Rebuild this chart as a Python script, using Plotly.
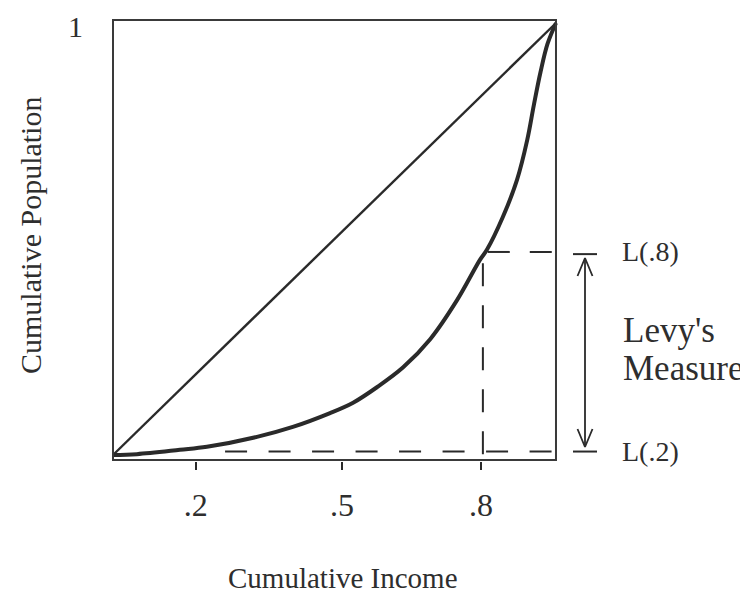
import plotly.graph_objects as go

# ---- data ----
lorenz_income = [0, 0.054, 0.151, 0.212, 0.325, 0.406, 0.490, 0.542, 0.596, 0.655, 0.716,
                 0.777, 0.828, 0.844, 0.880, 0.912, 0.935, 0.950, 0.965, 0.981, 1.0]
lorenz_pop = [0, 0.002, 0.012, 0.019, 0.042, 0.065, 0.097, 0.121, 0.157, 0.203, 0.268,
              0.359, 0.451, 0.475, 0.551, 0.637, 0.729, 0.810, 0.886, 0.952, 1.0]
equality_income = [0, 1]
equality_pop = [0, 1]

tick_positions = [0.187, 0.517, 0.831]
tick_labels = [".2", ".5", ".8"]
y_top_label = "1"

L08 = 0.470          # level of L(.8)
L02 = 0.008          # level of L(.2)
x08 = 0.835          # vertical guide at .8
x_low_start = 0.253  # where L(.2) dashed guide starts
x_high_start = 0.846 # where L(.8) dashed guide starts
box_x = [0, 1]
box_y = [-0.0116, 1.007]
arrow_x = 1.0655
cap_x = [1.0384, 1.0926]

INK = "#2a2a2a"
TXT = "#2e2e2e"
FONT = "Liberation Serif"

fig = go.Figure()

# box
fig.add_shape(type="rect", x0=box_x[0], x1=box_x[1], y0=box_y[0], y1=box_y[1],
              xref="x", yref="y", line=dict(color="#3a3a3a", width=2))

# equality diagonal
fig.add_trace(go.Scatter(x=equality_income, y=equality_pop, mode="lines",
                         line=dict(color=INK, width=2.4), hoverinfo="skip"))
# Lorenz curve
fig.add_trace(go.Scatter(x=lorenz_income, y=lorenz_pop, mode="lines",
                         line=dict(color=INK, width=4, shape="spline", smoothing=1.0),
                         hoverinfo="skip"))

# dashed guides
fig.add_trace(go.Scatter(x=[x_low_start, box_x[1]], y=[L02, L02], mode="lines",
                         line=dict(color=INK, width=2, dash="22px,21.5px"), hoverinfo="skip"))
fig.add_trace(go.Scatter(x=[x_high_start, box_x[1]], y=[L08, L08], mode="lines",
                         line=dict(color=INK, width=2, dash="22px,20px"), hoverinfo="skip"))
fig.add_trace(go.Scatter(x=[x08, x08], y=[L08 - 0.026, -0.02], mode="lines",
                         line=dict(color=INK, width=2, dash="23px,19px"), hoverinfo="skip"))

# caps of the measure arrow
for lvl in (L08 - 0.005, L02):
    fig.add_trace(go.Scatter(x=cap_x, y=[lvl, lvl], mode="lines",
                             line=dict(color=INK, width=2), hoverinfo="skip"))

# arrow shaft and open heads
top = L08 - 0.014
bot = L02 + 0.0105
dx, dy = 0.0169, 0.0417
fig.add_trace(go.Scatter(x=[arrow_x, arrow_x], y=[top, bot], mode="lines",
                         line=dict(color=INK, width=1.8), hoverinfo="skip"))
fig.add_trace(go.Scatter(x=[arrow_x - dx, arrow_x, arrow_x + dx], y=[top - dy, top, top - dy],
                         mode="lines", line=dict(color=INK, width=1.8), hoverinfo="skip"))
fig.add_trace(go.Scatter(x=[arrow_x - dx, arrow_x, arrow_x + dx], y=[bot + dy, bot, bot + dy],
                         mode="lines", line=dict(color=INK, width=1.8), hoverinfo="skip"))

ann = []
ann.append(dict(text=y_top_label, xref="paper", yref="paper", x=-0.0549, y=1.0157,
                xanchor="center", yanchor="top", showarrow=False,
                font=dict(family=FONT, size=30, color=TXT)))
ann.append(dict(text="L(.8)", xref="paper", yref="y", x=1.0137, y=L08, xanchor="left",
                yanchor="middle", showarrow=False, font=dict(family=FONT, size=28, color=TXT)))
ann.append(dict(text="L(.2)", xref="paper", yref="y", x=1.0137, y=L02, xanchor="left",
                yanchor="middle", showarrow=False, font=dict(family=FONT, size=28, color=TXT)))
ann.append(dict(text="Levy's", xref="paper", yref="paper", x=1.0157, y=0.2915, xanchor="left",
                yanchor="middle", showarrow=False, font=dict(family=FONT, size=35, color=TXT)))
ann.append(dict(text="Measure", xref="paper", yref="paper", x=1.0157, y=0.2063, xanchor="left",
                yanchor="middle", showarrow=False, font=dict(family=FONT, size=35, color=TXT)))
ann.append(dict(text="Cumulative Income", xref="paper", yref="paper", x=0.4706, y=-0.2623,
                xanchor="center", yanchor="middle", showarrow=False,
                font=dict(family=FONT, size=29, color=TXT)))
ann.append(dict(text="Cumulative Population", xref="paper", yref="paper", x=-0.1431, y=0.5067,
                xanchor="center", yanchor="middle", textangle=-90, showarrow=False,
                font=dict(family=FONT, size=30, color=TXT)))

# the page body adds an 8px offset, so the margins are 8px smaller than the target positions
fig.update_layout(
    width=748, height=593,
    margin=dict(l=95, r=143, t=7, b=140, autoexpand=False),
    paper_bgcolor="white", plot_bgcolor="white",
    showlegend=False,
    annotations=ann,
    xaxis=dict(range=[-0.02257, 1.1287], tickvals=tick_positions, ticktext=tick_labels,
               ticks="outside", ticklen=8, tickwidth=2, tickcolor=INK,
               showgrid=False, zeroline=False, showline=False, fixedrange=True,
               tickfont=dict(family=FONT, size=32, color=TXT), ticklabelstandoff=8),
    yaxis=dict(range=[-0.01389, 1.0185], showticklabels=False, ticks="",
               showgrid=False, zeroline=False, showline=False, fixedrange=True),
)

fig.write_html("out.html")
